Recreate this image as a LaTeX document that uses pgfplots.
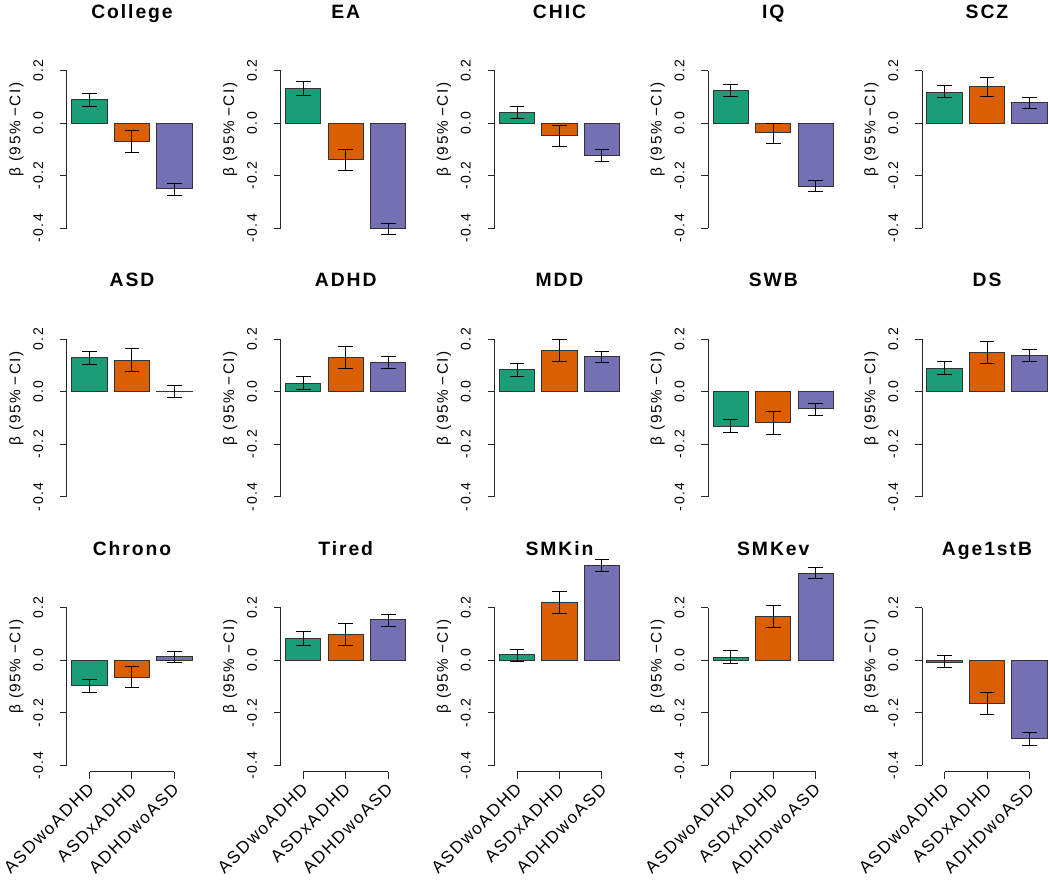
\documentclass[border=0pt]{standalone}
\usepackage{fontspec}
\setmainfont{Liberation Sans}
\newfontfamily\ls{Liberation Sans}[LetterSpace=10]
\usepackage{pgfplots}
\usepackage{pgfplotstable}
\pgfplotsset{compat=1.18}
\definecolor{cg}{HTML}{1B9E77}
\definecolor{co}{HTML}{D95F02}
\definecolor{cp}{HTML}{7570B3}

% x = bar centre, y = beta, lo/hi = 95% CI
\pgfplotstableread{
x y lo hi
0.7 0.090 0.064 0.114
1.9 -0.070 -0.111 -0.029
3.1 -0.250 -0.275 -0.229
}\tCollege
\pgfplotstableread{
x y lo hi
0.7 0.131 0.106 0.157
1.9 -0.140 -0.181 -0.099
3.1 -0.401 -0.423 -0.380
}\tEA
\pgfplotstableread{
x y lo hi
0.7 0.041 0.016 0.065
1.9 -0.048 -0.089 -0.009
3.1 -0.125 -0.147 -0.102
}\tCHIC
\pgfplotstableread{
x y lo hi
0.7 0.125 0.101 0.147
1.9 -0.036 -0.077 0.000
3.1 -0.240 -0.261 -0.220
}\tIQ
\pgfplotstableread{
x y lo hi
0.7 0.117 0.097 0.142
1.9 0.138 0.101 0.175
3.1 0.077 0.056 0.097
}\tSCZ
\pgfplotstableread{
x y lo hi
0.7 0.129 0.103 0.151
1.9 0.120 0.077 0.163
3.1 0.001 -0.023 0.025
}\tASD
\pgfplotstableread{
x y lo hi
0.7 0.032 0.008 0.058
1.9 0.129 0.088 0.172
3.1 0.112 0.088 0.134
}\tADHD
\pgfplotstableread{
x y lo hi
0.7 0.083 0.057 0.108
1.9 0.157 0.116 0.200
3.1 0.133 0.112 0.154
}\tMDD
\pgfplotstableread{
x y lo hi
0.7 -0.132 -0.156 -0.107
1.9 -0.119 -0.161 -0.077
3.1 -0.065 -0.090 -0.044
}\tSWB
\pgfplotstableread{
x y lo hi
0.7 0.090 0.066 0.116
1.9 0.150 0.108 0.191
3.1 0.138 0.115 0.161
}\tDS
\pgfplotstableread{
x y lo hi
0.7 -0.096 -0.121 -0.072
1.9 -0.064 -0.105 -0.023
3.1 0.013 -0.009 0.033
}\tChrono
\pgfplotstableread{
x y lo hi
0.7 0.082 0.058 0.108
1.9 0.100 0.058 0.141
3.1 0.154 0.128 0.176
}\tTired
\pgfplotstableread{
x y lo hi
0.7 0.022 -0.004 0.041
1.9 0.221 0.178 0.263
3.1 0.359 0.338 0.385
}\tSMKin
\pgfplotstableread{
x y lo hi
0.7 0.012 -0.013 0.037
1.9 0.167 0.124 0.209
3.1 0.330 0.310 0.352
}\tSMKev
\pgfplotstableread{
x y lo hi
0.7 -0.008 -0.029 0.017
1.9 -0.164 -0.205 -0.121
3.1 -0.296 -0.323 -0.276
}\tAgeB

\pgfplotsset{
  panel/.style={
    scale only axis, width=97.5pt, height=127.8pt, anchor=south west,
    xmin=0.064, xmax=3.736, ymin=-0.424, ymax=0.224,
    clip=false,
    axis y line*=left, axis x line*=bottom,
    axis line style={draw=none},
    ytick={-0.4,-0.2,0,0.2}, yticklabels={-0.4,-0.2,0.0,0.2},
    xtick=\empty,
    tick align=outside, major tick length=5.25pt,
    tick style={black!85, line width=0.75pt},
    yticklabel shift=9pt,
    yticklabel style={rotate=90, anchor=south, font=\ls\fontsize{10.5}{12}\selectfont},
    ylabel={β\hspace{0.4em}(95\%\hspace{0.3em}−\hspace{0.1em}CI)},
    ylabel style={at={(axis description cs:-0.39,0.616)}, anchor=center, font=\ls\fontsize{11.5}{13}\selectfont},
    title style={at={(axis description cs:0.5,1)}, anchor=base, yshift=28.5pt, font=\ls\bfseries\fontsize{14.5}{16}\selectfont},
  },
  bottomrow/.style={
    xtick={0.7,1.9,3.1},
    xticklabels={ASDwoADHD,ASDxADHD,ADHDwoASD},
    xticklabel style={font=\ls\fontsize{12.8}{14}\selectfont, anchor=east, xshift=3.5pt, yshift=-3pt, rotate=45},
  },
  barstyle/.style={ybar, bar width=1, bar shift=0pt, draw=black!80, line width=0.75pt,
    error bars/y dir=both, error bars/y explicit,
    error bars/error bar style={black, line width=0.75pt},
    error bars/error mark options={rotate=90, mark size=5.6pt, black, line width=0.75pt}},
}

\newcommand{\panel}[5]{%
\begin{axis}[panel, at={(#1,#2)}, title={#3}, #5]
\addplot[barstyle, fill=cg] table[x=x, y=y, y error plus expr=\thisrow{hi}-\thisrow{y}, y error minus expr=\thisrow{y}-\thisrow{lo}, skip coords between index={1}{3}] {#4};
\addplot[barstyle, fill=co] table[x=x, y=y, y error plus expr=\thisrow{hi}-\thisrow{y}, y error minus expr=\thisrow{y}-\thisrow{lo}, skip coords between index={0}{1}, skip coords between index={2}{3}] {#4};
\addplot[barstyle, fill=cp] table[x=x, y=y, y error plus expr=\thisrow{hi}-\thisrow{y}, y error minus expr=\thisrow{y}-\thisrow{lo}, skip coords between index={0}{2}] {#4};
\draw[black!85, line width=0.75pt] (axis cs:0.064,-0.4) -- (axis cs:0.064,0.2);
\end{axis}}

\newcommand{\bpanel}[5]{%
\begin{axis}[panel, bottomrow, at={(#1,#2)}, title={#3}, #5]
\addplot[barstyle, fill=cg] table[x=x, y=y, y error plus expr=\thisrow{hi}-\thisrow{y}, y error minus expr=\thisrow{y}-\thisrow{lo}, skip coords between index={1}{3}] {#4};
\addplot[barstyle, fill=co] table[x=x, y=y, y error plus expr=\thisrow{hi}-\thisrow{y}, y error minus expr=\thisrow{y}-\thisrow{lo}, skip coords between index={0}{1}, skip coords between index={2}{3}] {#4};
\addplot[barstyle, fill=cp] table[x=x, y=y, y error plus expr=\thisrow{hi}-\thisrow{y}, y error minus expr=\thisrow{y}-\thisrow{lo}, skip coords between index={0}{2}] {#4};
\draw[black!85, line width=0.75pt] (axis cs:0.064,-0.4) -- (axis cs:0.064,0.2);
\draw[black!85, line width=0.75pt] (axis cs:0.7,-0.424) -- (axis cs:3.1,-0.424);
\end{axis}}

\begin{document}
\begin{tikzpicture}
\useasboundingbox (0,0) rectangle (787.5pt,662.25pt);
% row 1
\panel{50.25pt}{486.3pt}{College}{\tCollege}{}
\panel{210.56pt}{486.3pt}{EA}{\tEA}{}
\panel{370.88pt}{486.3pt}{CHIC}{\tCHIC}{}
\panel{531.19pt}{486.3pt}{IQ}{\tIQ}{}
\panel{691.5pt}{486.3pt}{SCZ}{\tSCZ}{}
% row 2
\panel{50.25pt}{284.85pt}{ASD}{\tASD}{}
\panel{210.56pt}{284.85pt}{ADHD}{\tADHD}{}
\panel{370.88pt}{284.85pt}{MDD}{\tMDD}{}
\panel{531.19pt}{284.85pt}{SWB}{\tSWB}{}
\panel{691.5pt}{284.85pt}{DS}{\tDS}{}
% row 3
\bpanel{50.25pt}{83.4pt}{Chrono}{\tChrono}{}
\bpanel{210.56pt}{83.4pt}{Tired}{\tTired}{}
\bpanel{370.88pt}{83.4pt}{SMKin}{\tSMKin}{}
\bpanel{531.19pt}{83.4pt}{SMKev}{\tSMKev}{}
\bpanel{691.5pt}{83.4pt}{Age1stB}{\tAgeB}{}
\end{tikzpicture}
\end{document}
